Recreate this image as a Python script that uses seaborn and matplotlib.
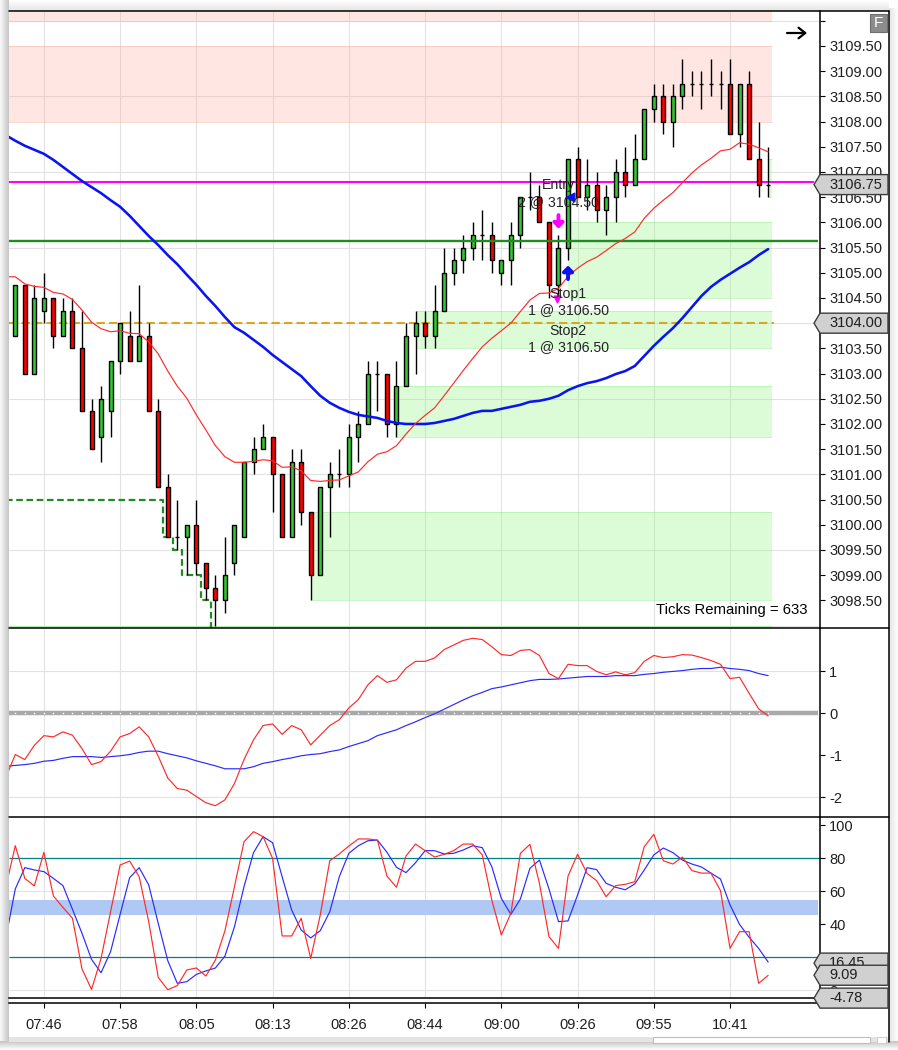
"""
Futures candlestick chart with two indicator panes below it.
Run: python plot.py
"""

import numpy as np
import pandas as pd
import matplotlib
matplotlib.use("Agg")
import matplotlib.pyplot as plt
import seaborn as sns
from matplotlib.lines import Line2D
from matplotlib.patches import Polygon, Rectangle

# ── Data ──────────────────────────────────────────────────────────────────────
opens = [
    3103.75, 3104.75, 3103.00, 3104.25, 3104.50, 3103.75, 3104.25, 3103.50, 3102.25, 3101.75,
    3102.25, 3103.25, 3103.75, 3103.25, 3103.75, 3102.25, 3100.75, 3099.75, 3099.75, 3100.00,
    3099.25, 3098.75, 3098.50, 3099.25, 3099.75, 3101.25, 3101.50, 3101.75, 3101.00, 3099.75,
    3101.25, 3100.25, 3099.00, 3100.75, 3101.00, 3101.00, 3101.75, 3102.00, 3103.00, 3103.00,
    3102.00, 3102.75, 3103.75, 3104.00, 3103.75, 3104.25, 3105.00, 3105.25, 3105.50, 3105.75,
    3105.75, 3105.00, 3105.25, 3105.75, 3106.50, 3106.50, 3106.00, 3104.75, 3105.50, 3107.25,
    3106.50, 3106.75, 3106.25, 3106.50, 3107.00, 3106.75, 3107.25, 3108.25, 3108.50, 3108.00,
    3108.50, 3108.75, 3108.75, 3108.75, 3108.75, 3108.75, 3107.75, 3108.75, 3107.25, 3106.75,
]
closes = [
    3104.75, 3103.00, 3104.50, 3104.50, 3103.75, 3104.25, 3103.50, 3102.25, 3101.50, 3102.50,
    3103.25, 3104.00, 3103.25, 3103.75, 3102.25, 3100.75, 3099.75, 3099.75, 3100.00, 3099.25,
    3098.75, 3098.50, 3099.00, 3100.00, 3101.25, 3101.50, 3101.75, 3101.00, 3099.75, 3101.25,
    3100.25, 3099.00, 3100.75, 3101.00, 3101.00, 3101.75, 3102.00, 3103.00, 3103.00, 3102.00,
    3102.75, 3103.75, 3104.00, 3103.75, 3104.25, 3105.00, 3105.25, 3105.50, 3105.75, 3105.75,
    3105.25, 3105.25, 3105.75, 3106.50, 3106.50, 3106.00, 3104.75, 3105.50, 3107.25, 3106.50,
    3106.75, 3106.25, 3106.50, 3107.00, 3106.75, 3107.25, 3108.25, 3108.50, 3108.00, 3108.50,
    3108.75, 3108.75, 3108.75, 3108.75, 3108.75, 3107.75, 3108.75, 3107.25, 3106.75, 3106.75,
]
highs = [
    3104.75, 3104.75, 3104.75, 3105.00, 3104.50, 3104.50, 3104.50, 3104.25, 3102.50, 3102.75,
    3103.25, 3104.00, 3104.25, 3104.75, 3104.00, 3102.50, 3101.00, 3100.50, 3100.00, 3100.50,
    3099.25, 3099.00, 3099.75, 3100.00, 3101.25, 3101.75, 3102.00, 3101.75, 3101.00, 3101.50,
    3101.50, 3100.25, 3100.75, 3101.25, 3101.50, 3102.00, 3102.25, 3103.25, 3103.25, 3103.00,
    3103.25, 3104.00, 3104.25, 3104.25, 3104.75, 3105.50, 3105.50, 3105.75, 3106.00, 3106.25,
    3106.00, 3105.25, 3106.00, 3106.50, 3107.00, 3106.75, 3106.00, 3105.75, 3107.25, 3107.50,
    3107.25, 3107.00, 3106.75, 3107.25, 3107.50, 3107.75, 3108.25, 3108.75, 3108.75, 3108.75,
    3109.25, 3109.00, 3109.00, 3109.25, 3109.00, 3109.25, 3108.75, 3109.00, 3108.00, 3107.50,
]
lows = [
    3103.75, 3103.00, 3103.00, 3104.00, 3103.50, 3103.75, 3103.50, 3102.25, 3101.50, 3101.25,
    3101.75, 3103.00, 3103.25, 3103.25, 3102.25, 3100.75, 3099.75, 3099.50, 3099.00, 3099.00,
    3098.50, 3098.00, 3098.25, 3099.00, 3099.75, 3101.00, 3101.50, 3100.25, 3099.75, 3099.75,
    3100.00, 3098.50, 3099.00, 3099.75, 3100.75, 3100.75, 3101.25, 3102.00, 3102.25, 3101.75,
    3101.75, 3102.75, 3103.00, 3103.50, 3103.50, 3104.25, 3104.75, 3105.00, 3105.25, 3105.25,
    3105.00, 3104.75, 3104.75, 3105.50, 3106.25, 3106.00, 3104.50, 3104.50, 3105.25, 3106.50,
    3106.25, 3106.00, 3105.75, 3106.00, 3106.50, 3106.75, 3107.25, 3108.00, 3107.75, 3107.50,
    3108.25, 3108.50, 3108.25, 3108.50, 3108.25, 3107.75, 3107.50, 3107.25, 3106.50, 3106.50,
]

# line series start one bar before the first candle so they reach the left edge
red_ma = [
    3104.92,
    3104.92, 3104.78, 3104.73, 3104.71, 3104.61, 3104.58, 3104.47, 3104.26, 3104.02, 3103.89,
    3103.83, 3103.85, 3103.80, 3103.79, 3103.63, 3103.39, 3103.05, 3102.75, 3102.51, 3102.18,
    3101.88, 3101.57, 3101.35, 3101.24, 3101.24, 3101.26, 3101.29, 3101.27, 3101.14, 3101.15,
    3101.07, 3100.88, 3100.86, 3100.88, 3100.89, 3100.97, 3101.05, 3101.25, 3101.40, 3101.45,
    3101.57, 3101.80, 3102.01, 3102.17, 3102.32, 3102.56, 3102.81, 3103.06, 3103.30, 3103.53,
    3103.70, 3103.85, 3104.00, 3104.23, 3104.46, 3104.59, 3104.60, 3104.69, 3104.93, 3105.09,
    3105.22, 3105.31, 3105.44, 3105.58, 3105.68, 3105.81, 3106.08, 3106.28, 3106.44, 3106.59,
    3106.79, 3106.98, 3107.14, 3107.27, 3107.42, 3107.45, 3107.58, 3107.55, 3107.48, 3107.40,
]
blue_ma = [
    3107.73,
    3107.62, 3107.52, 3107.44, 3107.36, 3107.24, 3107.10, 3106.96, 3106.82, 3106.70, 3106.58,
    3106.44, 3106.31, 3106.13, 3105.93, 3105.73, 3105.55, 3105.35, 3105.17, 3104.96, 3104.76,
    3104.54, 3104.34, 3104.12, 3103.92, 3103.81, 3103.67, 3103.53, 3103.37, 3103.23, 3103.09,
    3102.95, 3102.75, 3102.56, 3102.42, 3102.32, 3102.24, 3102.18, 3102.15, 3102.12, 3102.06,
    3102.02, 3102.00, 3102.00, 3102.00, 3102.02, 3102.06, 3102.10, 3102.16, 3102.22, 3102.26,
    3102.26, 3102.30, 3102.34, 3102.38, 3102.44, 3102.46, 3102.50, 3102.56, 3102.67, 3102.75,
    3102.81, 3102.85, 3102.91, 3102.99, 3103.05, 3103.15, 3103.35, 3103.55, 3103.73, 3103.90,
    3104.10, 3104.32, 3104.54, 3104.72, 3104.86, 3104.98, 3105.10, 3105.21, 3105.35, 3105.47,
]
macd_red = [
    -1.53,
    -0.98, -1.10, -0.76, -0.53, -0.56, -0.44, -0.52, -0.84, -1.22, -1.15,
    -0.90, -0.56, -0.48, -0.32, -0.56, -1.02, -1.54, -1.79, -1.83, -1.98,
    -2.13, -2.20, -2.06, -1.67, -1.10, -0.63, -0.29, -0.25, -0.50, -0.29,
    -0.39, -0.75, -0.52, -0.29, -0.15, 0.13, 0.33, 0.68, 0.90, 0.74,
    0.80, 1.08, 1.24, 1.24, 1.32, 1.52, 1.63, 1.74, 1.79, 1.76,
    1.59, 1.40, 1.38, 1.50, 1.52, 1.38, 0.95, 0.83, 1.17, 1.14,
    1.14, 1.00, 0.92, 0.99, 0.92, 0.97, 1.24, 1.38, 1.33, 1.35,
    1.40, 1.39, 1.33, 1.26, 1.17, 0.83, 0.86, 0.48, 0.11, -0.06,
]
macd_blue = [
    -1.26,
    -1.24, -1.22, -1.19, -1.14, -1.12, -1.07, -1.03, -1.03, -1.03, -1.05,
    -1.03, -1.01, -0.98, -0.93, -0.90, -0.90, -0.96, -1.01, -1.06, -1.13,
    -1.19, -1.25, -1.32, -1.32, -1.32, -1.27, -1.19, -1.15, -1.10, -1.06,
    -1.01, -0.98, -0.96, -0.91, -0.87, -0.79, -0.72, -0.65, -0.53, -0.46,
    -0.39, -0.29, -0.20, -0.10, -0.01, 0.10, 0.21, 0.32, 0.42, 0.50,
    0.59, 0.63, 0.68, 0.73, 0.78, 0.81, 0.81, 0.82, 0.84, 0.86,
    0.88, 0.88, 0.88, 0.90, 0.90, 0.90, 0.93, 0.95, 0.98, 1.00,
    1.02, 1.05, 1.07, 1.07, 1.10, 1.07, 1.05, 1.02, 0.95, 0.90,
]
stoch_red = [
    62.4,
    87.6, 67.8, 63.2, 83.6, 57.1, 50.2, 43.6, 12.9, 0.5, 19.3,
    47.6, 75.9, 78.3, 68.8, 41.6, 7.8, 0.3, 2.8, 12.3, 13.5,
    8.6, 18.3, 36.1, 62.8, 90.0, 96.1, 93.1, 79.9, 32.9, 32.9,
    43.6, 19.3, 45.6, 78.5, 82.6, 87.4, 91.7, 91.7, 91.0, 69.2,
    62.4, 81.4, 88.6, 84.6, 80.7, 82.4, 84.6, 88.6, 88.6, 82.0,
    54.7, 33.5, 46.6, 83.0, 88.4, 64.8, 32.5, 25.4, 69.2, 82.4,
    70.8, 66.4, 56.7, 63.4, 64.2, 65.8, 87.0, 94.5, 78.5, 76.5,
    80.7, 72.5, 71.0, 71.0, 60.3, 25.4, 35.5, 35.5, 4.2, 9.0,
]
stoch_blue = [
    31.4,
    61.4, 74.3, 72.9, 71.9, 67.8, 63.4, 49.0, 34.5, 18.7, 10.6,
    23.4, 46.0, 68.2, 74.3, 63.8, 40.5, 17.9, 4.2, 5.2, 9.6,
    11.7, 13.5, 20.7, 38.5, 62.8, 83.4, 93.1, 89.4, 68.8, 48.6,
    36.5, 31.7, 36.1, 47.6, 68.8, 83.0, 87.6, 90.6, 91.0, 83.6,
    74.5, 71.3, 77.3, 84.6, 84.6, 82.6, 83.0, 85.0, 87.6, 86.4,
    74.9, 55.7, 46.0, 55.3, 73.9, 78.9, 61.4, 41.6, 42.0, 57.7,
    74.3, 73.1, 64.8, 62.4, 60.9, 64.4, 72.9, 82.0, 86.2, 83.4,
    78.9, 76.5, 74.7, 71.0, 67.4, 51.7, 39.9, 32.1, 25.4, 17.1,
]

# stepped trailing stop, one value per bar from the bar before the first candle
stop_levels = [3100.50] * 17 + [3099.75, 3099.50, 3099.00, 3099.00, 3098.50, 3097.90]

# supply / demand boxes
zone_low = [3110.00, 3108.00, 3106.50, 3104.50, 3103.50, 3101.75, 3098.50, 3097.90]
zone_high = [3110.80, 3109.50, 3107.25, 3106.00, 3104.25, 3102.75, 3100.25, 3098.00]
zone_start = [-1, -1, 79, 58, 42, 40, 31, -1]
zone_kind = ["red", "red", "green", "green", "green", "green", "green", "green"]

time_bars = [3, 11, 19, 27, 35, 43, 51, 59, 67, 75]
time_labels = ["07:46", "07:58", "08:05", "08:13", "08:26", "08:44", "09:00", "09:26", "09:55", "10:41"]
price_ticks = [3098.5 + 0.5 * k for k in range(24)]
price_grid = [3098.0, 3099.5, 3101.0, 3102.5, 3104.0, 3105.5, 3107.0, 3108.5, 3110.0]

# ── Config ────────────────────────────────────────────────────────────────────
W, H = 898, 1050
X_MIN, X_MAX = -0.66, 84.44
X_BAND_END = 84.23
X_ZONE_END = 79.42
UP, DOWN = "#32C832", "#FF0000"
GRID = "#e2e2e2"
TEXT = "#1e1e1e"
GRID_LW = 0.8
THIN_LW = 0.85

sns.set_theme(style="white")
plt.rcParams["font.family"] = ["Liberation Sans", "DejaVu Sans"]
plt.rcParams["font.size"] = 10


def px_axes(fig, top, bottom, left=9, right=820):
    return fig.add_axes([left / W, 1 - bottom / H, (right - left) / W, (bottom - top) / H])


def px_box(fig, x0, y0, x1, y1, color, edge="none", z=-5, lw=0.8):
    fig.add_artist(Rectangle((x0 / W, 1 - y1 / H), (x1 - x0) / W, (y1 - y0) / H,
                             transform=fig.transFigure, facecolor=color,
                             edgecolor=edge, lw=lw, zorder=z))


def px_line(fig, x0, y0, x1, y1, z=8):
    fig.add_artist(Line2D([x0 / W, x1 / W], [1 - y0 / H, 1 - y1 / H],
                          transform=fig.transFigure, color="black", lw=1.1, zorder=z))


def style_pane(ax, ticks, labels, ylim):
    ax.set_xlim(X_MIN, X_MAX)
    ax.set_ylim(*ylim)
    ax.set_xticks(time_bars)
    ax.set_yticks(ticks)
    ax.set_yticklabels(labels)
    ax.set(xlabel=None, ylabel=None)
    ax.set_facecolor("white")
    ax.patch.set_alpha(1)
    ax.grid(True, axis="x", color=GRID, lw=GRID_LW, zorder=0)
    ax.set_axisbelow(True)
    ax.yaxis.tick_right()
    ax.tick_params(axis="y", left=False, right=True, labelleft=False, labelright=True,
                   length=3.6, width=0.8, pad=3, labelsize=10.5, labelcolor=TEXT, color="black")
    ax.tick_params(axis="x", bottom=False, labelbottom=False)
    for side in ["left", "top", "bottom"]:
        ax.spines[side].set_visible(False)
    ax.spines["right"].set_color("black")
    ax.spines["right"].set_linewidth(1.1)


def badge(fig, ax, value, label, z):
    # grey price tag on the axis, placed from the pane's own y scale
    y = ax.transData.transform((0, value))[1]
    half, tip, x0, x1 = 10, 814, 820, 888
    pts = [(tip, y), (x0, y + half), (x1, y + half), (x1, y - half), (x0, y - half)]
    fig.add_artist(Polygon([(px / W, py / H) for px, py in pts], closed=True,
                           transform=fig.transFigure, facecolor="#d0d0d0",
                           edgecolor="#3c3c3c", lw=1, zorder=z))
    fig.text(829 / W, y / H, label, fontsize=10.5, color=TEXT, va="center", ha="left", zorder=z + 0.5)


bars = np.arange(len(opens))
line_bars = np.arange(-1, len(opens))
candles = pd.DataFrame({"bar": bars, "open": opens, "high": highs, "low": lows, "close": closes})
lines = pd.DataFrame({
    "bar": line_bars,
    "red_ma": red_ma, "blue_ma": blue_ma,
    "macd_red": macd_red, "macd_blue": macd_blue,
    "stoch_red": stoch_red, "stoch_blue": stoch_blue,
})
candles["top"] = candles[["open", "close"]].max(axis=1)
candles["bottom"] = candles[["open", "close"]].min(axis=1)
candles["color"] = np.where(candles["close"] < candles["open"], DOWN, UP)
candles.loc[candles["close"] == candles["open"], "color"] = "black"

fig = plt.figure(figsize=(W / 100, H / 100), dpi=100, facecolor="white")

# ── Window shadow ─────────────────────────────────────────────────────────────
for k, shade in enumerate(np.linspace(0.97, 0.78, 9)):
    px_box(fig, k, 0, k + 1, 1042, str(round(shade, 3)))
for k, shade in enumerate(np.linspace(0.995, 0.90, 11)):
    px_box(fig, 9, k, 889, k + 1, str(round(shade, 3)))
for k, shade in enumerate(np.linspace(0.90, 0.99, 9)):
    px_box(fig, 889 + k, 8, 890 + k, 1042, str(round(shade, 3)))
for k, shade in enumerate(np.linspace(0.78, 0.99, 9)):
    px_box(fig, 0, 1041 + k, W, 1042 + k, str(round(shade, 3)))
px_box(fig, 9, 1037, 889, 1042, "#e4e4e4")
px_box(fig, 653, 1037, 870, 1043, "white", edge="#bdbdbd")
px_box(fig, 877, 1037, 886, 1043, "white", edge="#d0d0d0")

# ── Main pane ─────────────────────────────────────────────────────────────────
ax = px_axes(fig, 11, 628)
price_labels = [f"{p:.2f}" for p in price_ticks]
price_labels[-1] = ""
style_pane(ax, price_ticks, price_labels, (3097.952, 3110.194))
ax.hlines(price_grid, X_MIN, X_ZONE_END + 5, color=GRID, lw=GRID_LW, zorder=0.5)

for low, high, start, kind in zip(zone_low, zone_high, zone_start, zone_kind):
    fill = (1.0, 0.647, 0.58) if kind == "red" else (0.557, 0.973, 0.502)
    edge = (0.95, 0.70, 0.65) if kind == "red" else (0.62, 0.93, 0.58)
    alpha = 0.27 if kind == "red" else 0.3
    ax.fill_between([start, X_ZONE_END], low, high, color=fill, alpha=alpha, lw=0, zorder=1)
    ax.hlines([low, high], start, X_ZONE_END, color=edge, lw=0.6, alpha=0.6, zorder=1)

ax.hlines(3106.80, X_MIN, 83.8, color="#FF00FF", lw=1.5, zorder=3)
ax.hlines(3105.625, X_MIN, X_BAND_END, color="#228B22", lw=1.7, zorder=6)
ax.hlines(3104.0, X_MIN, X_ZONE_END + 0.2, color="#DAA520", lw=1.5, linestyles=(0, (4, 2)), zorder=3)
ax.plot(line_bars[:len(stop_levels)], stop_levels, color="#228B22", lw=1.6,
        ls=(0, (3, 1.6)), drawstyle="steps-mid", zorder=3)

ax.vlines(candles["bar"], candles["low"], candles["high"], color="black", lw=1, zorder=4)
ax.bar(candles["bar"], candles["top"] - candles["bottom"], bottom=candles["bottom"], width=0.42,
       color=candles["color"], edgecolor="black", lw=1, zorder=5)

sns.lineplot(data=lines, x="bar", y="blue_ma", ax=ax, color="#0A14F0", lw=1.85, zorder=7, errorbar=None)
sns.lineplot(data=lines, x="bar", y="red_ma", ax=ax, color="#FF2A2A", lw=THIN_LW, zorder=7, errorbar=None)
ax.set(xlabel=None, ylabel=None)

# trade markers and their labels
ax.annotate("", xy=(57, 3105.82), xytext=(57, 3106.2), zorder=8,
            arrowprops=dict(arrowstyle="-|>,head_width=0.3,head_length=0.3", color="#FF00FF", lw=2.8))
ax.annotate("", xy=(58, 3105.2), xytext=(58, 3104.82), zorder=8,
            arrowprops=dict(arrowstyle="-|>,head_width=0.3,head_length=0.3", color="#0A14F0", lw=2.8))
ax.scatter([58.25], [3106.5], marker="<", s=38, color="#0A14F0", zorder=8)
ax.scatter([56.85], [3104.47], marker="v", s=24, color="#FF00FF", zorder=8)
for bar, price, label in [(57, 3106.74, "Entry"), (57, 3106.40, "2 @ 3104.50"),
                          (58, 3104.58, "Stop1"), (58, 3104.26, "1 @ 3106.50"),
                          (58, 3103.85, "Stop2"), (58, 3103.53, "1 @ 3106.50")]:
    ax.text(bar, price, label, fontsize=10.2, color="#222222", ha="center", va="center", zorder=9)

ax.text(807, 1050 - 610, "Ticks Remaining = 633", transform=None, fontsize=10.7, color="black",
        ha="right", va="center", zorder=9)
ax.annotate("", xy=(807 / W, 1 - 33 / H), xytext=(787 / W, 1 - 33 / H), xycoords="figure fraction",
            textcoords="figure fraction", zorder=9,
            arrowprops=dict(arrowstyle="->,head_width=0.38,head_length=0.48", color="black", lw=1.6,
                            shrinkA=0, shrinkB=0))

# ── MACD pane ─────────────────────────────────────────────────────────────────
ax2 = px_axes(fig, 628, 816.5)
style_pane(ax2, [1, 0, -1, -2], ["1", "0", "-1", "-2"], (-2.457, 2.035))
ax2.hlines([1, -2], X_MIN, X_MAX, color=GRID, lw=GRID_LW, zorder=0.5)
ax2.hlines(0, X_MIN, X_BAND_END, color="#A9A9A9", lw=3.2, zorder=2)
ax2.scatter(bars, np.zeros(len(bars)), s=1.2, color="white", lw=0, zorder=3)
sns.lineplot(data=lines, x="bar", y="macd_blue", ax=ax2, color="#2A2AFF", lw=THIN_LW, zorder=4, errorbar=None)
sns.lineplot(data=lines, x="bar", y="macd_red", ax=ax2, color="#FF2A2A", lw=THIN_LW, zorder=5, errorbar=None)
ax2.set(xlabel=None, ylabel=None)

# ── Stochastic pane ───────────────────────────────────────────────────────────
ax3 = px_axes(fig, 816.5, 998)
style_pane(ax3, [0, 20, 40, 60, 80, 100], ["0", "", "40", "60", "80", "100"], (-4.7, 105.3))
ax3.hlines([0, 60], X_MIN, X_MAX, color=GRID, lw=GRID_LW, zorder=0.5)
ax3.fill_between([X_MIN, X_BAND_END], 45.5, 54.5, color="#AFC9F4", lw=0, zorder=1)
ax3.hlines([20, 80], X_MIN, X_MAX, color="#008080", lw=0.9, zorder=2)
sns.lineplot(data=lines, x="bar", y="stoch_blue", ax=ax3, color="#2A2AFF", lw=THIN_LW, zorder=4, errorbar=None)
sns.lineplot(data=lines, x="bar", y="stoch_red", ax=ax3, color="#FF2A2A", lw=THIN_LW, zorder=5, errorbar=None)
ax3.set(xlabel=None, ylabel=None)

# ── Time axis ─────────────────────────────────────────────────────────────────
ax4 = px_axes(fig, 998, 1003)
ax4.set_xlim(X_MIN, X_MAX)
ax4.set_yticks([])
ax4.set_xticks(time_bars)
ax4.set_xticklabels(time_labels)
ax4.tick_params(axis="x", bottom=True, length=3.6, width=0.8, pad=7, labelsize=10.5,
                labelcolor=TEXT, color="black")
for side in ["left", "right"]:
    ax4.spines[side].set_visible(False)
for side in ["top", "bottom"]:
    ax4.spines[side].set_color("black")
    ax4.spines[side].set_linewidth(1.1)

# ── Frame, tags, button ───────────────────────────────────────────────────────
px_line(fig, 9, 11, 889, 11)
px_line(fig, 889, 11, 889, 1042)
px_line(fig, 9, 628, 889, 628)
px_line(fig, 9, 816.5, 889, 816.5)
px_box(fig, 870, 14, 887, 32, "#8c8c8c", edge="#6e6e6e", z=9)
fig.text(878.5 / W, 1 - 23 / H, "F", fontsize=11, color="white", ha="center", va="center", zorder=10)

fig.canvas.draw()
badge(fig, ax, 3106.75, "3106.75", 10)
badge(fig, ax, 3104.00, "3104.00", 10)
badge(fig, ax3, 16.45, "16.45", 10)
badge(fig, ax3, 9.09, "9.09", 11)
badge(fig, ax3, -4.78, "-4.78", 12)

fig.savefig("out.png", dpi=100, facecolor="white")
plt.close(fig)
